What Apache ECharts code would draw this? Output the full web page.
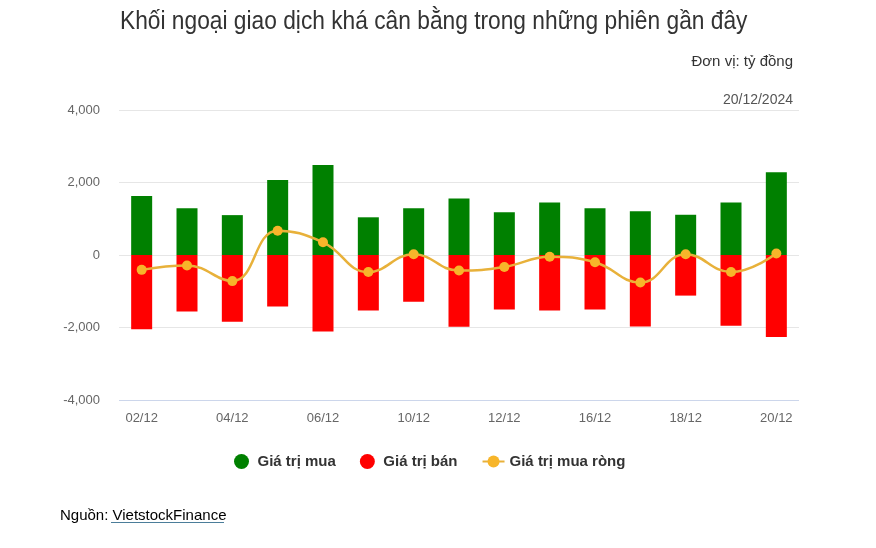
<!DOCTYPE html>
<html>
<head>
<meta charset="utf-8">
<script src="https://cdn.jsdelivr.net/npm/echarts@6/dist/echarts.min.js"></script>
<style>
html,body{margin:0;padding:0;background:#fff;}
#c{width:876px;height:548px;}
</style>
</head>
<body>
<div id="c"></div>
<script>
const categories = ['02/12','03/12','04/12','05/12','06/12','09/12','10/12','11/12','12/12','13/12','16/12','17/12','18/12','19/12','20/12'];
const buyValues  = [1630, 1290, 1100, 2070, 2480, 1040, 1290, 1560, 1180, 1450, 1290, 1210, 1110, 1450, 2280];
const sellValues = [-2050, -1560, -1840, -1420, -2110, -1530, -1290, -1980, -1500, -1530, -1500, -1970, -1120, -1950, -2260];
const netValues  = [-410, -290, -720, 670, 350, -470, 20, -430, -330, -50, -200, -760, 20, -470, 40];
const seriesNames = ['Giá trị mua', 'Giá trị bán', 'Giá trị mua ròng'];
const titleText = 'Khối ngoại giao dịch khá cân bằng trong những phiên gần đây';
const unitText = 'Đơn vị: tỷ đồng';
const dateText = '20/12/2024';
const sourceLabel = 'Nguồn: ';
const sourceName = 'VietstockFinance';

const FONT = '"Liberation Sans", Arial, sans-serif';
const chart = echarts.init(document.getElementById('c'), null, {renderer: 'canvas'});
chart.setOption({
  animation: false,
  backgroundColor: '#ffffff',
  textStyle: {fontFamily: FONT},
  legend: {
    left: 229,
    top: 449,
    itemWidth: 22,
    itemHeight: 15,
    itemGap: 24,
    textStyle: {fontSize: 15, fontWeight: 'bold', color: '#333333', fontFamily: FONT},
    data: [
      {name: seriesNames[0], icon: 'circle'},
      {name: seriesNames[1], icon: 'circle'},
      {name: seriesNames[2]}
    ]
  },
  grid: {left: 119, right: 77, top: 110, bottom: 148},
  xAxis: {
    type: 'category',
    data: categories,
    boundaryGap: true,
    axisTick: {show: false},
    axisLine: {show: false},
    axisLabel: {interval: 1, color: '#666666', fontSize: 13, margin: 12, fontFamily: FONT},
    splitLine: {show: false}
  },
  yAxis: {
    type: 'value',
    min: -4000, max: 4000, interval: 2000,
    axisLine: {show: false},
    axisTick: {show: false},
    axisLabel: {color: '#666666', fontSize: 13, margin: 19, fontFamily: FONT,
      formatter: v => (v < 0 ? '-' : '') + Math.abs(v).toLocaleString('en-US')},
    splitLine: {lineStyle: {color: '#e6e6e6', width: 1}}
  },
  series: [
    {name: seriesNames[0], type: 'bar', stack: 'v', data: buyValues, barWidth: 21,
      itemStyle: {color: '#008000'}},
    {name: seriesNames[1], type: 'bar', stack: 'v', data: sellValues, barWidth: 21,
      itemStyle: {color: '#ff0000'}},
    {name: seriesNames[2], type: 'line', data: netValues, smooth: 0.45,
      symbol: 'circle', symbolSize: 10, z: 5,
      lineStyle: {color: '#e8b13a', width: 2.5},
      itemStyle: {color: '#f7b52a'}},
    {type: 'line', data: [], markLine: {silent: true, symbol: 'none', label: {show: false},
      lineStyle: {color: '#ccd6eb', type: 'solid', width: 1},
      data: [{yAxis: -4000}]}}
  ],
  graphic: [
    {type: 'text', x: 120, y: 22, scaleX: 0.875, style: {
      text: titleText, fill: '#333333', font: 'normal 26px ' + FONT, verticalAlign: 'middle', align: 'left'}},
    {type: 'text', x: 793, y: 62, style: {
      text: unitText, fill: '#333333', font: 'normal 15px ' + FONT, verticalAlign: 'middle', align: 'right'}},
    {type: 'text', x: 793, y: 100, style: {
      text: dateText, fill: '#555555', font: 'normal 14px ' + FONT, verticalAlign: 'middle', align: 'right'}},
    {type: 'text', x: 60, y: 516, style: {
      text: '{a|' + sourceLabel + '}{b|' + sourceName + '}', verticalAlign: 'middle', align: 'left',
      rich: {
        a: {fontSize: 15, color: '#444444', fontFamily: FONT},
        b: {fontSize: 15, color: '#4b7d9a', fontFamily: FONT}
      }}},
    {type: 'rect', x: 111, y: 522, shape: {width: 113, height: 1}, style: {fill: '#4b7d9a'}}
  ]
});
</script>
</body>
</html>
